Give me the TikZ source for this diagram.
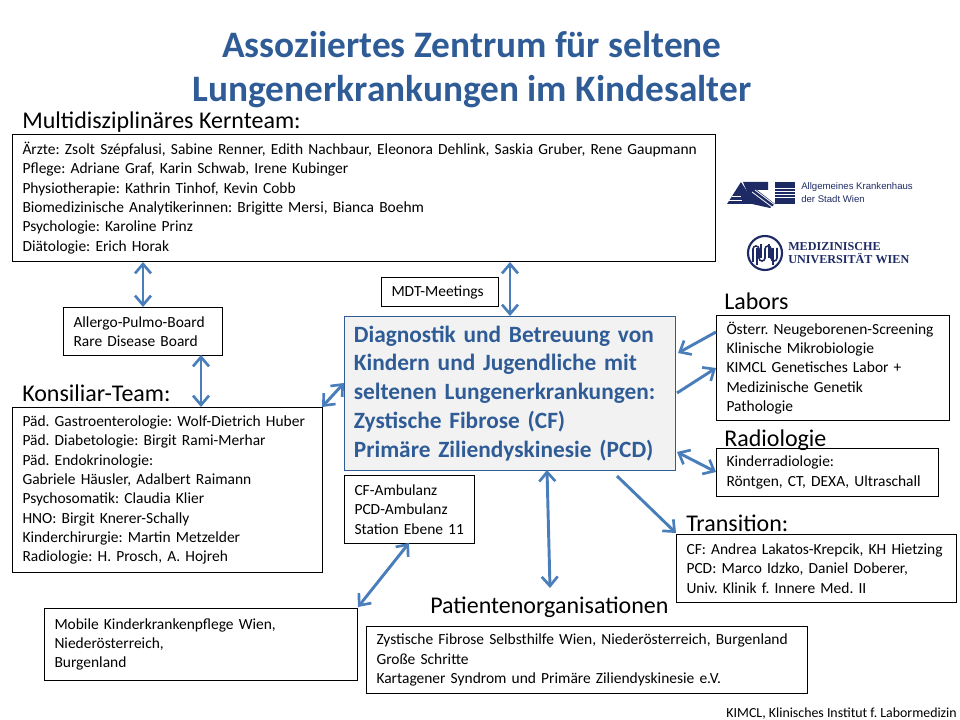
\documentclass[tikz,border=0pt]{standalone}
\usepackage{fontspec}
\setmainfont{Carlito}
\newfontfamily\akhfont{Liberation Sans}
\newfontfamily\uniffont{Liberation Serif}
\usepackage{xcolor}
\usetikzlibrary{arrows.meta,positioning}
\definecolor{titleblue}{RGB}{47,92,150}
\definecolor{linkblue}{RGB}{74,126,187}
\definecolor{centerfill}{RGB}{242,242,242}
\definecolor{logonavy}{RGB}{30,42,100}
\tikzset{
    box/.style 2 args={rectangle, draw=black, line width=0.75pt, anchor=north west, align=left, inner xsep=7.5pt, inner ysep=0pt, text width=#1, minimum height=#2, font=\fontsize{11.6}{14.5}\selectfont\frenchspacing},
    head/.style={anchor=base west, inner sep=0pt, font=\fontsize{18}{20}\selectfont},
    link/.style={line width=2.2pt, linkblue, {Straight Barb[length=7pt,width=12pt,line width=2pt]}-{Straight Barb[length=7pt,width=12pt,line width=2pt]}},
    linkR/.style={line width=2.2pt, linkblue, -{Straight Barb[length=7pt,width=12pt,line width=2pt]}},
    maintitle/.style={anchor=base, inner sep=0pt, text=titleblue, font=\fontsize{28}{32}\selectfont\bfseries},
}
\begin{document}
\begin{tikzpicture}[x=0.75pt,y=-0.75pt]
    \useasboundingbox (0,0) rectangle (960,720);
    \node[maintitle] (title1) at (472,58) {Assoziiertes Zentrum für seltene};
    \node[maintitle] (title2) at (472,102) {Lungenerkrankungen im Kindesalter};

    \node[head] (kernhead) at (22,129) {Multidisziplinäres Kernteam:};
    \node[box={512.25pt}{95.25pt}] (kern) at (12,134) {Ärzte: Zsolt Szépfalusi, Sabine Renner, Edith Nachbaur, Eleonora Dehlink, Saskia Gruber, Rene Gaupmann\\Pflege: Adriane Graf, Karin Schwab, Irene Kubinger\\Physiotherapie: Kathrin Tinhof, Kevin Cobb\\Biomedizinische Analytikerinnen: Brigitte Mersi, Bianca Boehm\\Psychologie: Karoline Prinz\\Diätologie: Erich Horak};
    \node[box={104.25pt}{36pt}] (board) at (63,307) {Allergo-Pulmo-Board\\Rare Disease Board};
    \node[box={72.75pt}{21.75pt}] (mdt) at (381,277) {MDT-Meetings};
    \node[box={234pt}{115.5pt}, draw=titleblue, fill=centerfill, text=titleblue, inner xsep=7pt, font=\fontsize{17.5}{21.7}\selectfont\bfseries\frenchspacing] (center) at (344,316) {Diagnostik und Betreuung von\\Kindern und Jugendliche mit\\seltenen Lungenerkrankungen:\\Zystische Fibrose (CF)\\Primäre Ziliendyskinesie (PCD)};

    \node[head] (laborhead) at (724,310) {Labors};
    \node[box={159.75pt}{78.75pt}] (labors) at (716,315) {Österr. Neugeborenen-Screening\\Klinische Mikrobiologie\\KIMCL Genetisches Labor +\\Medizinische Genetik\\Pathologie};
    \node[head] (radiohead) at (724,446) {Radiologie};
    \node[box={151.5pt}{36pt}] (radio) at (716,448) {Kinderradiologie:\\Röntgen, CT, DEXA, Ultraschall};
    \node[head] (transhead) at (686,531) {Transition:};
    \node[box={195pt}{51pt}] (trans) at (676,534) {CF: Andrea Lakatos-Krepcik, KH Hietzing\\PCD: Marco Idzko, Daniel Doberer,\\Univ. Klinik f. Innere Med. II};

    \node[head] (konshead) at (22,401) {Konsiliar-Team:};
    \node[box={217.5pt}{123.75pt}] (kons) at (12,407) {Päd. Gastroenterologie: Wolf-Dietrich Huber\\Päd. Diabetologie: Birgit Rami-Merhar\\Päd. Endokrinologie:\\Gabriele Häusler, Adalbert Raimann\\Psychosomatik: Claudia Klier\\HNO: Birgit Knerer-Schally\\Kinderchirurgie: Martin Metzelder\\Radiologie: H. Prosch, A. Hojreh};
    \node[box={82.5pt}{51pt}] (amb) at (344,475) {CF-Ambulanz\\PCD-Ambulanz\\Station Ebene 11};
    \node[box={219.75pt}{54pt}] (mobile) at (44,608) {Mobile Kinderkrankenpflege Wien,\\Niederösterreich,\\Burgenland};
    \node[head] (pathead) at (430,613) {Patientenorganisationen};
    \node[box={315.75pt}{50.25pt}] (pat) at (366,626) {Zystische Fibrose Selbsthilfe Wien, Niederösterreich, Burgenland\\Große Schritte\\Kartagener Syndrom und Primäre Ziliendyskinesie e.V.};

    \node[anchor=base east, inner sep=0pt, font=\fontsize{10.4}{12}\selectfont\frenchspacing] (foot) at (957,717) {KIMCL, Klinisches Institut f. Labormedizin};

    \coordinate (boardS) at (201,355);
    \coordinate (midN) at (510,316);
    \coordinate (konsE) at (322,407);
    \coordinate (centerW) at (344,383);
    \coordinate (laborIn) at (716,332);
    \coordinate (centerIn) at (678,353);
    \coordinate (centerOut) at (677,393);
    \coordinate (laborOut) at (716,368);
    \coordinate (centerR) at (677,452);
    \coordinate (radioW) at (716,472);
    \coordinate (centerT) at (617,476);
    \coordinate (transN) at (676,533);
    \coordinate (centerS) at (547,470);
    \coordinate (patN) at (550,588);
    \coordinate (mobileE) at (358,607);
    \coordinate (ambS) at (409,543);
    \draw[link] (board.north) -- (board.north |- kern.south);
    \draw[link] (boardS) -- (boardS |- kons.north);
    \draw[link] (midN |- kern.south) -- (midN);
    \draw[link] (centerW) -- (konsE);
    \draw[linkR] (laborIn) -- (centerIn);
    \draw[linkR] (centerOut) -- (laborOut);
    \draw[link] (centerR) -- (radioW);
    \draw[linkR] (centerT) -- (transN);
    \draw[link] (centerS) -- (patN);
    \draw[link] (mobileE) -- (ambS);

    \fill[logonavy] (727,204) -- (741,182) -- (755,204) -- cycle;
    \fill[logonavy] (743,182) -- (768,182) -- (768,190) -- (757,190) -- (775,204) -- (770,208) -- (752,204) -- cycle;
    \fill[logonavy] (775,182) rectangle (795,204);
    \draw[white, line width=0.6pt] (729,200) -- (742,200) (732,196) -- (741,196);
    \draw[white, line width=0.6pt] (775,188) -- (795,188) (775,191) -- (795,191) (775,194) -- (795,194) (775,197) -- (795,197);
    \draw[white, line width=0.6pt] (752,192) -- (772,207) (755,190) -- (775,205);
    \node[anchor=base west, inner sep=0pt, text=logonavy, font=\fontsize{7.2}{9}\selectfont\akhfont] (akh1) at (801,190) {Allgemeines Krankenhaus};
    \node[anchor=base west, inner sep=0pt, text=logonavy, font=\fontsize{7.2}{9}\selectfont\akhfont] (akh2) at (801,203) {der Stadt Wien};

    \draw[logonavy, line width=1.6pt] (765,253) circle[radius=17];
    \draw[logonavy, line width=1.2pt] (753,262) -- (753,249) arc[start angle=180, end angle=360, radius=3] -- (759,258) arc[start angle=180, end angle=0, radius=3] -- (765,249) arc[start angle=180, end angle=360, radius=3] -- (771,258) arc[start angle=180, end angle=0, radius=3] -- (777,248);
    \draw[logonavy, line width=1.2pt] (757,265) -- (757,248) (761,244) -- (761,258) (769,244) -- (769,258) (773,265) -- (773,248);
    \node[anchor=base west, inner sep=0pt, text=logonavy, font=\fontsize{9.1}{10}\selectfont\uniffont\bfseries] (uni1) at (788,251) {MEDIZINISCHE};
    \node[anchor=base west, inner sep=0pt, text=logonavy, font=\fontsize{9.1}{10}\selectfont\uniffont\bfseries] (uni2) at (788,264) {UNIVERSITÄT WIEN};
\end{tikzpicture}
\end{document}
